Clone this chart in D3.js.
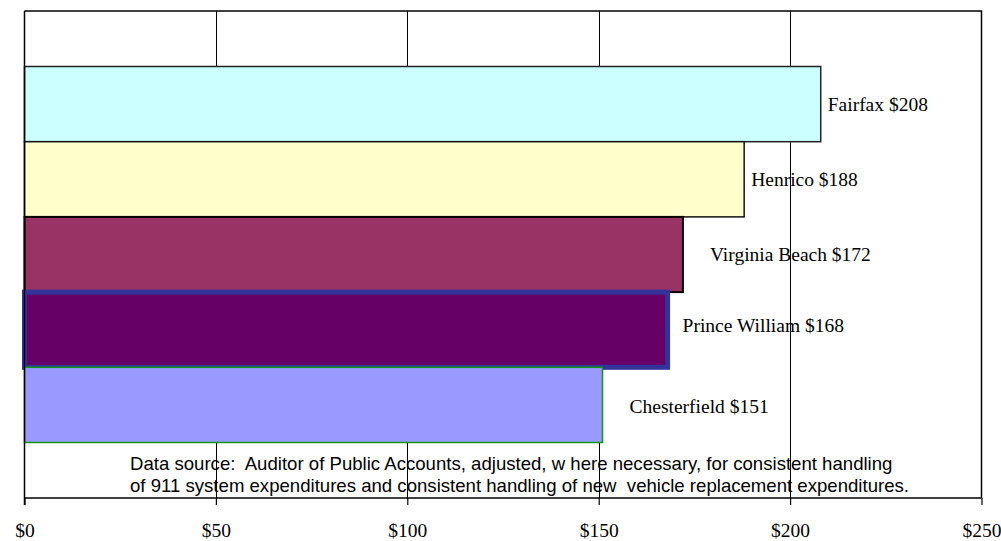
<!DOCTYPE html>
<html>
<head>
<meta charset="utf-8">
<script src="https://cdn.jsdelivr.net/npm/d3@7"></script>
<style>
  html, body { margin: 0; padding: 0; background: #fff; }
  svg { display: block; }
  text { white-space: pre; }
</style>
</head>
<body>
<svg id="chart" width="1001" height="541"></svg>
<script>
// ---- data ----
const counties = ["Fairfax", "Henrico", "Virginia Beach", "Prince William", "Chesterfield"];
const values = [208, 188, 172, 168, 151];
const tickValues = [0, 50, 100, 150, 200, 250];
const tickLabels = ["$0", "$50", "$100", "$150", "$200", "$250"];
const sourceLines = [
  "Data source:  Auditor of Public Accounts, adjusted, w here necessary, for consistent handling",
  "of 911 system expenditures and consistent handling of new  vehicle replacement expenditures."
];

// ---- styles / layout (not data) ----
const fills = ["#CCFFFF", "#FFFFCC", "#993366", "#660066", "#9999FF"];
const strokes = ["#222222", "#111111", "#000000", "#333399", "#149414"];
const strokeWidths = [1.5, 1.5, 2, 5, 1.5];
const labelDx = [7, 7, 27, 15, 27];
const labelDy = [0, 0, 0, -4, 2];

const margin = { left: 24.5, right: 19.5, top: 11, bottom: 43 };
const W = 1001, H = 541;
const svg = d3.select("#chart");

const x = d3.scaleLinear().domain([0, 250]).range([margin.left, W - margin.right]);
const y = d3.scaleBand().domain(counties).range([margin.top, H - margin.bottom])
  .paddingInner(0).paddingOuter(0.738);

const data = counties.map((c, i) => ({ name: c, value: values[i], i }));

// gridlines
svg.append("g")
  .selectAll("line")
  .data(tickValues.slice(1, -1))
  .join("line")
  .attr("x1", d => Math.round(x(d)) + 0.5)
  .attr("x2", d => Math.round(x(d)) + 0.5)
  .attr("y1", margin.top)
  .attr("y2", H - margin.bottom)
  .attr("stroke", "#000")
  .attr("stroke-width", 1);

// plot border (top, right)
svg.append("path")
  .attr("d", `M${x(0)},${margin.top}H${x(250)}V${H - margin.bottom}`)
  .attr("fill", "none")
  .attr("stroke", "#000")
  .attr("stroke-width", 1.5);

// bars
svg.append("g")
  .selectAll("rect")
  .data(data)
  .join("rect")
  .attr("x", x(0))
  .attr("y", d => y(d.name))
  .attr("width", d => x(d.value) - x(0))
  .attr("height", y.bandwidth())
  .attr("fill", d => fills[d.i])
  .attr("stroke", d => strokes[d.i])
  .attr("stroke-width", d => strokeWidths[d.i]);

// bar labels
svg.append("g")
  .selectAll("text")
  .data(data)
  .join("text")
  .attr("x", d => x(d.value) + labelDx[d.i])
  .attr("y", d => y(d.name) + y.bandwidth() / 2 + labelDy[d.i])
  .attr("dy", "0.33em")
  .attr("font-family", "'Liberation Serif', 'Times New Roman', serif")
  .attr("font-size", 19.5)
  .attr("fill", "#000")
  .text(d => `${d.name} $${d.value}`);

// source text
svg.append("g")
  .selectAll("text")
  .data(sourceLines)
  .join("text")
  .attr("x", 130)
  .attr("y", (d, i) => 470 + i * 21.5)
  .attr("font-family", "'Liberation Sans', Arial, sans-serif")
  .attr("font-size", 18.6)
  .attr("fill", "#000")
  .text(d => d);

// x axis
const xAxis = d3.axisBottom(x)
  .tickValues(tickValues)
  .tickFormat((d, i) => tickLabels[i])
  .tickSize(7)
  .tickPadding(18);
const ax = svg.append("g")
  .attr("transform", `translate(0,${H - margin.bottom})`)
  .call(xAxis);
ax.select(".domain").attr("stroke", "#000").attr("stroke-width", 1.5)
  .attr("d", `M${x(0)},0H${x(250)}`);
ax.selectAll(".tick line").attr("stroke", "#000").attr("stroke-width", 1.2);
ax.selectAll(".tick text")
  .attr("font-family", "'Liberation Serif', 'Times New Roman', serif")
  .attr("font-size", 19.5)
  .attr("fill", "#000");

// left axis line
svg.append("line")
  .attr("x1", x(0)).attr("x2", x(0))
  .attr("y1", margin.top).attr("y2", H - margin.bottom + 7)
  .attr("stroke", "#000").attr("stroke-width", 1.5);
</script>
</body>
</html>
